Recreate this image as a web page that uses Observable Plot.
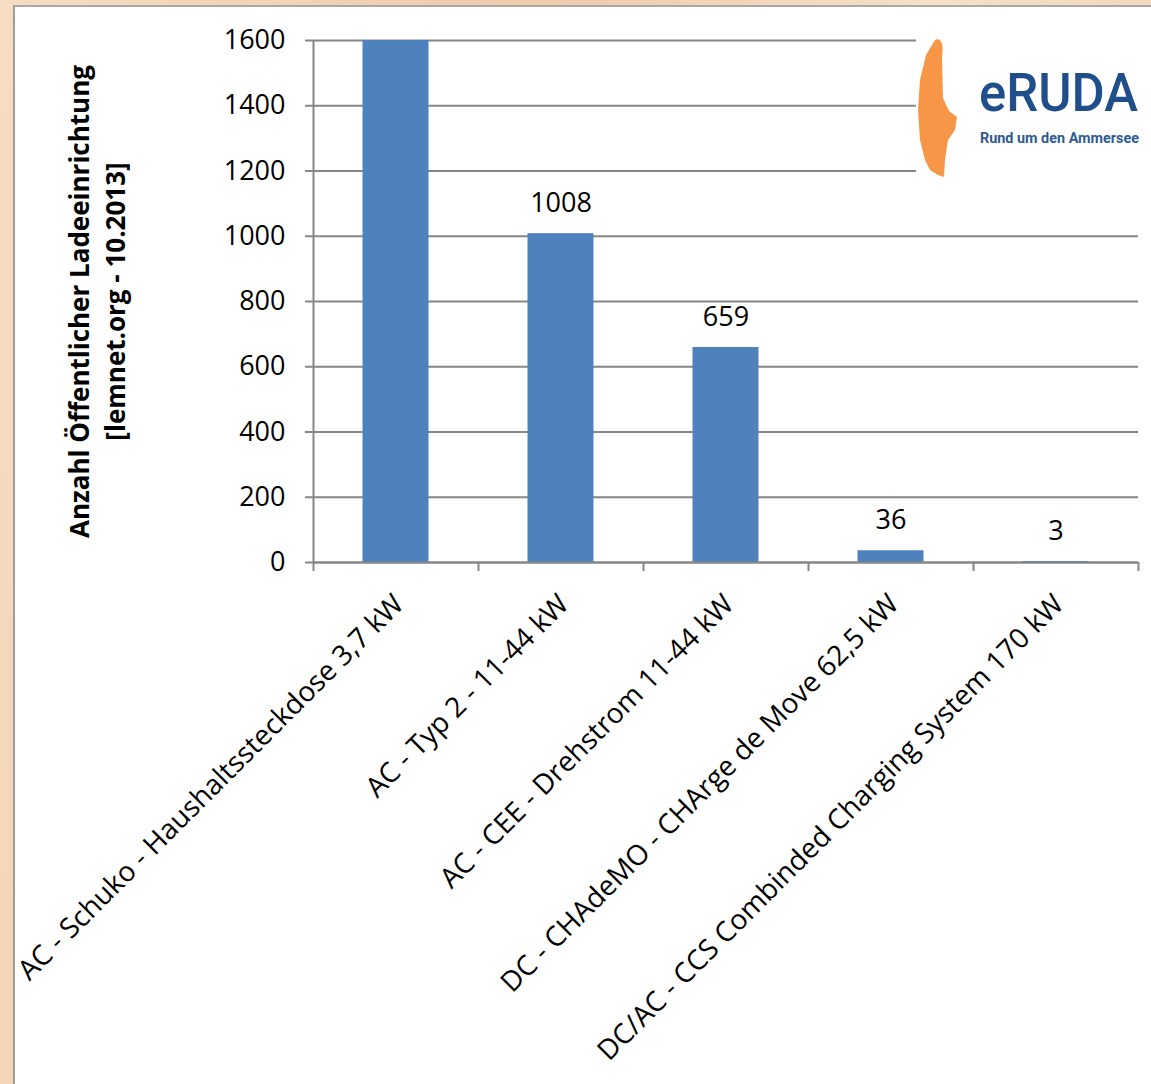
<!DOCTYPE html>
<html>
<head>
<meta charset="utf-8">
<script src="https://cdn.jsdelivr.net/npm/d3@7"></script>
<script src="https://cdn.jsdelivr.net/npm/@observablehq/plot@0.6"></script>
<style>
  html, body { margin: 0; padding: 0; }
  body {
    width: 1151px; height: 1084px; overflow: hidden; position: relative;
    background: linear-gradient(100deg, #f6dcc2 0%, #eecbab 40%, #f7dfc8 70%, #efd0b2 100%);
  }
  #panel {
    position: absolute; left: 13px; top: 5px; width: 1150px; height: 1090px;
    background: #fff; border-left: 2px solid #9c9c9c; border-top: 2px solid #a8a8a8;
  }
  #chart { position: absolute; left: 0; top: 0; }
  #logo { position: absolute; left: 916px; top: 30px; width: 235px; height: 150px; background: #fff; }
</style>
</head>
<body>
<div id="panel"></div>
<div id="chart"></div>
<div id="logo">
  <svg width="235" height="150" viewBox="916 30 235 150" style="font-family:Roboto, 'Liberation Sans', Arial, sans-serif">
    <path d="M935 40 C941 37 944 44 942 58 L943 98 L949 111 L957 117 L955 130 L948 140 L945 160 L944 177 L938 175 L930 170 L925 160 L920 140 L918 110 L920 80 L926 55 Z" fill="#f79646"/>
    <text x="979" y="111" font-size="54" font-weight="500" fill="#1f4e8a" textLength="159" lengthAdjust="spacingAndGlyphs">eRUDA</text>
    <text x="980" y="143" font-size="14" font-weight="bold" fill="#2f5a93" textLength="159" lengthAdjust="spacingAndGlyphs">Rund um den Ammersee</text>
  </svg>
</div>
<script>
const categories = [
  "AC - Schuko - Haushaltssteckdose 3,7 kW",
  "AC - Typ 2 - 11-44 kW",
  "AC - CEE - Drehstrom 11-44 kW",
  "DC - CHAdeMO - CHArge de Move 62,5 kW",
  "DC/AC - CCS Combinded Charging System 170 kW"
];
const counts = [1600, 1008, 659, 36, 3];
const valueLabels = [null, "1008", "659", "36", "3"];
const yTicks = [0, 200, 400, 600, 800, 1000, 1200, 1400, 1600];
const yTitle = "Anzahl Öffentlicher Ladeeinrichtung\n[lemnet.org - 10.2013]";

const data = categories.map((c, i) => ({i, category: c, value: counts[i], label: valueLabels[i]}));
const boundaries = d3.range(categories.length + 1);
const grey = "#868686";
const font = "'Open Sans', 'Liberation Sans', sans-serif";

const chart = Plot.plot({
  width: 1151,
  height: 1084,
  marginLeft: 313,
  marginRight: 13,
  marginTop: 40,
  marginBottom: 522,
  style: {fontFamily: font, background: "transparent", overflow: "visible"},
  x: {type: "linear", domain: [0, categories.length], axis: null},
  y: {domain: [0, 1600], axis: null},
  marks: [
    Plot.gridY(yTicks, {stroke: grey, strokeOpacity: 1, strokeWidth: 2}),
    Plot.ruleX([0], {stroke: grey, strokeWidth: 2}),
    Plot.axisY({ticks: yTicks, label: null, tickSize: 8, tickPadding: 20, fontSize: 27, stroke: grey, strokeWidth: 2, fill: "black", tickFormat: d => String(d)}),
    Plot.axisX({ticks: boundaries, label: null, tickSize: 9, stroke: grey, strokeWidth: 2, tickFormat: () => ""}),
    Plot.rectY(data, {x1: d => d.i + 0.3, x2: d => d.i + 0.7, y: "value", fill: "#4f81bd"}),
    Plot.ruleY([0], {stroke: grey, strokeWidth: 2}),
    Plot.text(data.filter(d => d.label), {x: d => d.i + 0.5, y: "value", text: "label", dy: -30, fontSize: 27, fill: "black"}),
    Plot.text(data, {x: d => d.i + 0.5, y: 0, text: "category", rotate: -45, textAnchor: "end", dx: 3, dy: 37, fontSize: 28, fill: "black"}),
    Plot.text([yTitle], {frameAnchor: "left", rotate: -90, dx: -218, fontSize: 26, fontWeight: "bold", lineHeight: 1.38, textAnchor: "middle", fill: "black"})
  ]
});
document.getElementById("chart").appendChild(chart);
</script>
</body>
</html>
